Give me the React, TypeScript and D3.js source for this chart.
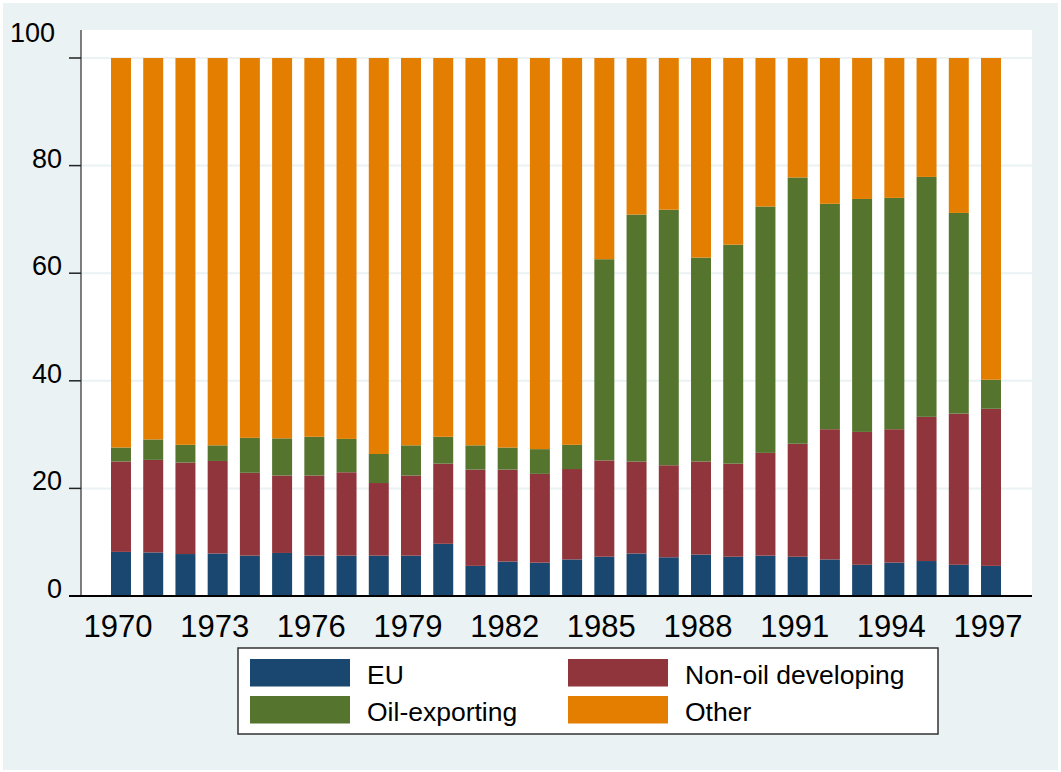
import React, { useEffect, useRef } from "react";
import * as d3 from "d3";

const years = [
  "1970", "1971", "1972", "1973", "1974", "1975", "1976", "1977", "1978", "1979",
  "1980", "1981", "1982", "1983", "1984", "1985", "1986", "1987", "1988", "1989",
  "1990", "1991", "1992", "1993", "1994", "1995", "1996", "1997",
];
const eu = [8.2, 8.1, 7.8, 7.9, 7.5, 8.0, 7.5, 7.5, 7.5, 7.5, 9.7, 5.6, 6.4, 6.2, 6.8, 7.3, 7.9, 7.2, 7.7, 7.3, 7.5, 7.3, 6.8, 5.8, 6.2, 6.5, 5.8, 5.6];
const nonOil = [16.8, 17.2, 17.0, 17.2, 15.4, 14.4, 14.9, 15.5, 13.5, 14.9, 14.9, 17.9, 17.1, 16.5, 16.8, 17.9, 17.1, 17.1, 17.3, 17.3, 19.1, 21.0, 24.2, 24.7, 24.8, 26.8, 28.1, 29.2];
const oilExporting = [2.6, 3.8, 3.3, 2.9, 6.5, 6.9, 7.2, 6.2, 5.4, 5.6, 5.0, 4.5, 4.1, 4.6, 4.5, 37.4, 45.9, 47.5, 37.9, 40.7, 45.8, 49.5, 41.9, 43.3, 43.0, 44.6, 37.3, 5.4];
const other = [72.4, 70.9, 71.9, 72.0, 70.6, 70.7, 70.4, 70.8, 73.6, 72.0, 70.4, 72.0, 72.4, 72.7, 71.9, 37.4, 29.1, 28.2, 37.1, 34.7, 27.6, 22.2, 27.1, 26.2, 26.0, 22.1, 28.8, 59.8];

const seriesKeys = ["eu", "nonOil", "oil", "other"];
const seriesLabels = ["EU", "Non-oil developing", "Oil-exporting", "Other"];
const seriesColors = ["#1a476f", "#90353b", "#55752f", "#e37e00"];
const yTicks = [0, 20, 40, 60, 80, 100];
const xTickLabels = ["1970", "1973", "1976", "1979", "1982", "1985", "1988", "1991", "1994", "1997"];

const FONT = "'Liberation Sans', Arial, Helvetica, sans-serif";

export default function App() {
  const svgRef = useRef<SVGSVGElement>(null);

  useEffect(() => {
    const width = 1061;
    const height = 772;
    const plot = { left: 81, right: 1032, top: 30, bottom: 596 };

    const svg = d3.select(svgRef.current).attr("width", width).attr("height", height);
    svg.selectAll("*").remove();

    // outer background + plot region
    svg.append("rect").attr("x", 3).attr("y", 3).attr("width", width - 6).attr("height", height - 5).attr("fill", "#eaf2f3");
    svg.append("rect")
      .attr("x", plot.left).attr("y", plot.top)
      .attr("width", plot.right - plot.left).attr("height", plot.bottom - plot.top)
      .attr("fill", "#ffffff");

    const rows = years.map((yr, i) => ({
      year: yr, eu: eu[i], nonOil: nonOil[i], oil: oilExporting[i], other: other[i],
    }));

    const x = d3.scaleBand().domain(years).range([111, 1001]).paddingInner(0.38).paddingOuter(0);
    const y = d3.scaleLinear().domain([0, 100]).range([plot.bottom, 58]);

    // grid
    svg.append("g")
      .selectAll("line")
      .data(yTicks)
      .enter().append("line")
      .attr("x1", plot.left).attr("x2", plot.right)
      .attr("y1", d => y(d)).attr("y2", d => y(d))
      .attr("stroke", "#eaf2f3").attr("stroke-width", 2);

    const stacked = d3.stack<any>().keys(seriesKeys)(rows);

    svg.append("g")
      .selectAll("g")
      .data(stacked)
      .enter().append("g")
      .attr("fill", (d, i) => seriesColors[i])
      .selectAll("rect")
      .data(d => d)
      .enter().append("rect")
      .attr("x", d => x(d.data.year) as number)
      .attr("y", d => y(d[1]))
      .attr("width", x.bandwidth())
      .attr("height", d => y(d[0]) - y(d[1]));

    // y axis
    svg.append("line")
      .attr("x1", plot.left).attr("x2", plot.left)
      .attr("y1", plot.top).attr("y2", plot.bottom)
      .attr("stroke", "#555").attr("stroke-width", 1.5);
    const yAxis = svg.append("g");
    yAxis.selectAll("line")
      .data(yTicks)
      .enter().append("line")
      .attr("x1", 69).attr("x2", plot.left)
      .attr("y1", d => y(d)).attr("y2", d => y(d))
      .attr("stroke", "#222").attr("stroke-width", 1.5);
    yAxis.selectAll("text")
      .data(yTicks)
      .enter().append("text")
      .attr("x", d => (d === 100 ? 55 : 62))
      .attr("y", d => (d === 100 ? y(d) - 16 : y(d) + 2))
      .attr("text-anchor", "end")
      .attr("font-family", FONT)
      .attr("font-size", 27)
      .attr("fill", "#000")
      .text(d => d);

    // x axis
    svg.append("line")
      .attr("x1", 69).attr("x2", plot.right)
      .attr("y1", plot.bottom).attr("y2", plot.bottom)
      .attr("stroke", "#000").attr("stroke-width", 2);
    svg.append("g")
      .selectAll("text")
      .data(xTickLabels)
      .enter().append("text")
      .attr("x", d => (x(d) as number) + x.bandwidth() / 2 - 3)
      .attr("y", 637)
      .attr("text-anchor", "middle")
      .attr("font-family", FONT)
      .attr("font-size", 31)
      .attr("fill", "#000")
      .text(d => d);

    // legend
    const legend = svg.append("g");
    legend.append("rect")
      .attr("x", 238).attr("y", 648).attr("width", 700).attr("height", 86)
      .attr("fill", "#fff").attr("stroke", "#333").attr("stroke-width", 1.5);
    const order = [0, 1, 2, 3];
    const item = legend.selectAll("g.item")
      .data(order)
      .enter().append("g")
      .attr("class", "item")
      .attr("transform", i => `translate(${i % 2 === 0 ? 250 : 568}, ${i < 2 ? 659 : 696})`);
    item.append("rect")
      .attr("width", 100).attr("height", 27.5)
      .attr("fill", i => seriesColors[i]);
    item.append("text")
      .attr("x", 117).attr("y", 25)
      .attr("font-family", FONT)
      .attr("font-size", 26.5)
      .attr("fill", "#000")
      .text(i => seriesLabels[i]);
  }, []);

  return (
    <svg ref={svgRef} style={{ position: "absolute", left: 0, top: 0, background: "#fff" }}></svg>
  );
}
